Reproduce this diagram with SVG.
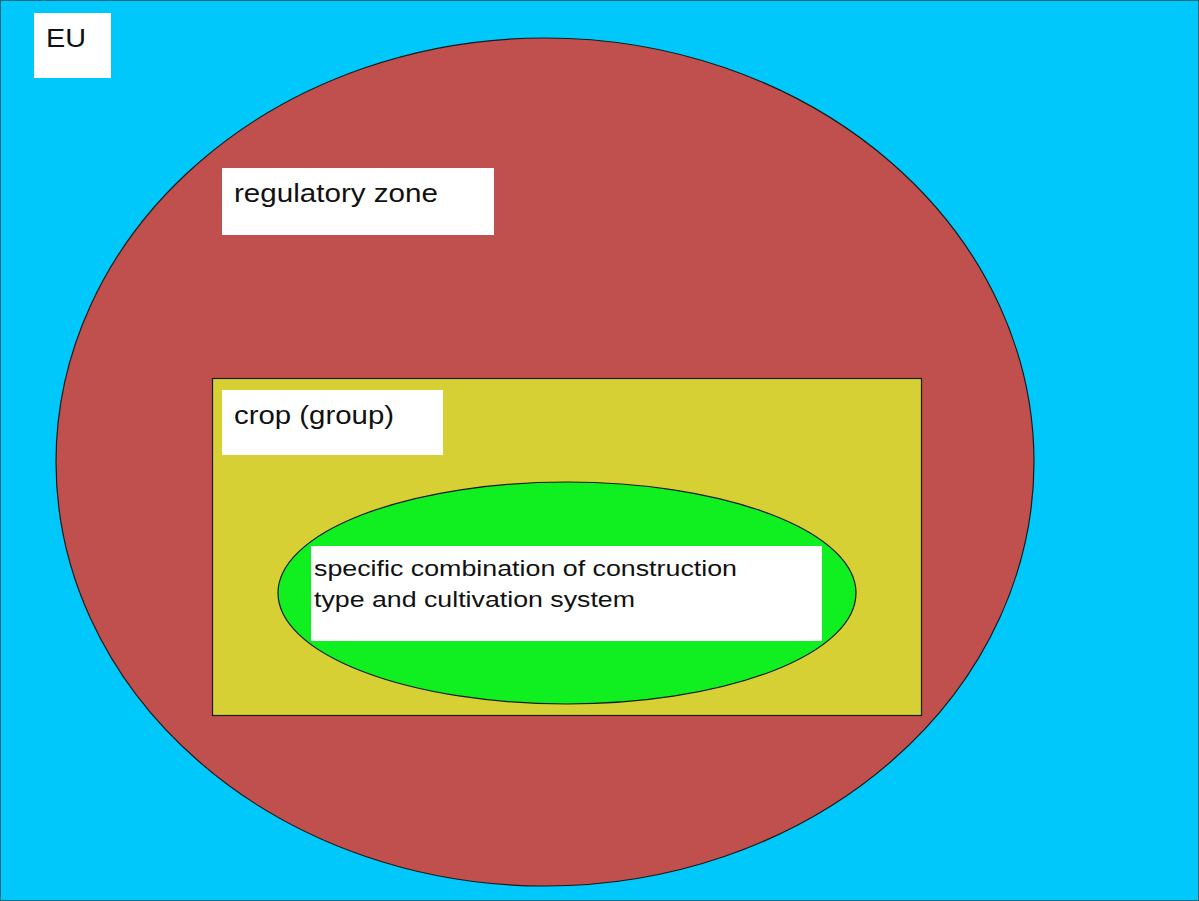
<svg xmlns="http://www.w3.org/2000/svg" width="1199" height="901" viewBox="0 0 1199 901">
  <style>
    .label-box { fill: #ffffff; }
    .label { font-family: "Liberation Sans", Arial, sans-serif; fill: #111111; }
    .outline { stroke: #1a1a1a; stroke-width: 1.2; }
  </style>
  <!-- EU area -->
  <g id="eu">
    <rect x="0" y="0" width="1199" height="901" fill="#00c8fb"/>
    <rect x="0.5" y="0.5" width="1198" height="900" fill="none" stroke="#1a6a80" stroke-width="1"/>
    <rect class="label-box" x="34" y="13" width="77" height="65"/>
    <text class="label" x="46" y="47" font-size="25" textLength="40" lengthAdjust="spacingAndGlyphs">EU</text>
  </g>
  <!-- regulatory zone -->
  <g id="regulatory-zone">
    <ellipse class="outline" cx="545" cy="462" rx="489" ry="424" fill="#c0504d"/>
    <rect class="label-box" x="222" y="168" width="272" height="67"/>
    <text class="label" x="234" y="202" font-size="25" textLength="204" lengthAdjust="spacingAndGlyphs">regulatory zone</text>
  </g>
  <!-- crop (group) -->
  <g id="crop-group">
    <rect class="outline" x="212.5" y="378.5" width="709" height="337" fill="#d6d034"/>
    <rect class="label-box" x="222" y="390" width="221" height="65"/>
    <text class="label" x="234" y="424" font-size="25" textLength="160" lengthAdjust="spacingAndGlyphs">crop (group)</text>
  </g>
  <!-- construction type / cultivation system -->
  <g id="combination">
    <ellipse class="outline" cx="567" cy="593" rx="289" ry="111" fill="#10f020"/>
    <rect class="label-box" x="311" y="546" width="511" height="95"/>
    <text class="label" x="314" y="576" font-size="22.5" textLength="423" lengthAdjust="spacingAndGlyphs">specific combination of construction</text>
    <text class="label" x="314" y="607" font-size="22.5" textLength="321" lengthAdjust="spacingAndGlyphs">type and cultivation system</text>
  </g>
  <g id="connectors"/>
</svg>
